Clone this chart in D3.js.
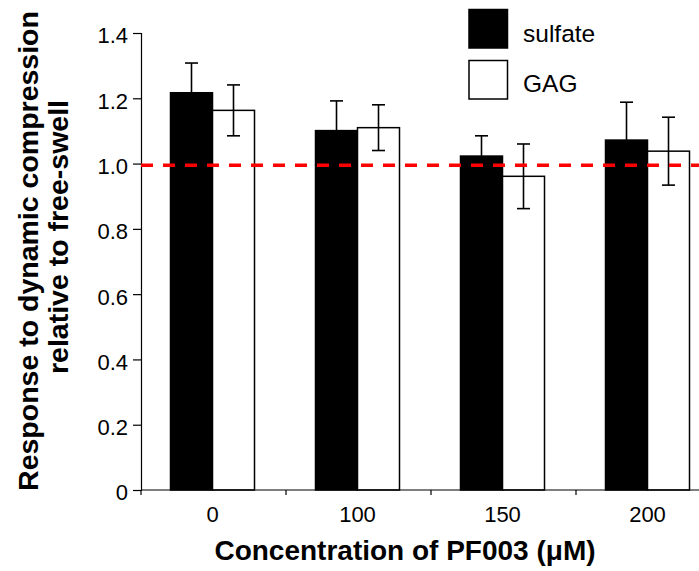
<!DOCTYPE html>
<html>
<head>
<meta charset="utf-8">
<script src="https://cdn.jsdelivr.net/npm/d3@7"></script>
<style>
  html, body { margin: 0; padding: 0; background: #fff; }
  svg { display: block; font-family: "Liberation Sans", Arial, sans-serif; }
</style>
</head>
<body>
<script>
const categories = ["0", "100", "150", "200"];
const seriesNames = ["sulfate", "GAG"];
const sulfate = [1.217, 1.101, 1.023, 1.072];
const sulfateErr = [0.091, 0.091, 0.062, 0.116];
const gag = [1.163, 1.110, 0.961, 1.038];
const gagErr = [0.078, 0.070, 0.099, 0.104];
const yTicks = [0, 0.2, 0.4, 0.6, 0.8, 1.0, 1.2, 1.4];
const refValue = 0.995;
const xTitle = "Concentration of PF003 (\u03BCM)";
const yTitle1 = "Response to dynamic compression";
const yTitle2 = "relative to free-swell";

const W = 699, H = 571;
const svg = d3.select("body").append("svg").attr("width", W).attr("height", H);

const x0 = d3.scaleBand().domain(categories).range([141, 721]).padding(0);
const x1 = d3.scaleBand().domain(seriesNames).range([-43, 41]).padding(0);
const y = d3.scaleLinear().domain([0, 1.4]).range([490, 33]);

const values = { sulfate: sulfate, GAG: gag };
const errs = { sulfate: sulfateErr, GAG: gagErr };
const fills = { sulfate: "#000", GAG: "#fff" };

const data = [];
categories.forEach((c, i) => {
  seriesNames.forEach(s => data.push({ c, s, v: values[s][i], e: errs[s][i] }));
});

// bars
svg.append("g").selectAll("rect").data(data).join("rect")
  .attr("x", d => x0(d.c) + x0.bandwidth() / 2 + x1(d.s))
  .attr("y", d => y(d.v))
  .attr("width", x1.bandwidth())
  .attr("height", d => y(0) - y(d.v))
  .attr("fill", d => fills[d.s])
  .attr("stroke", "#000")
  .attr("stroke-width", 1.5);

// error bars
const eb = svg.append("g").attr("stroke", "#000").attr("stroke-width", 1.6);
data.forEach(d => {
  const cx = x0(d.c) + x0.bandwidth() / 2 + x1(d.s) + x1.bandwidth() / 2;
  const yt = y(d.v + d.e), yb = y(d.v - d.e);
  eb.append("line").attr("x1", cx).attr("x2", cx).attr("y1", yt).attr("y2", yb);
  eb.append("line").attr("x1", cx - 6.5).attr("x2", cx + 6.5).attr("y1", yt).attr("y2", yt);
  eb.append("line").attr("x1", cx - 6.5).attr("x2", cx + 6.5).attr("y1", yb).attr("y2", yb)
    .attr("stroke", d.s === "sulfate" ? "#000" : "#000");
});

// y axis
const yAxis = d3.axisLeft(y).tickValues(yTicks)
  .tickFormat(d => d === 0 ? "0" : d3.format(".1f")(d))
  .tickSize(8).tickPadding(5);
const gy = svg.append("g").attr("transform", "translate(141,0)").call(yAxis);
gy.select(".domain").attr("stroke", "#000").attr("stroke-width", 1.2);
gy.selectAll(".tick line").attr("stroke", "#000").attr("stroke-width", 1.2);
gy.selectAll(".tick text").attr("font-size", 22).attr("fill", "#000")
  .attr("font-family", "Liberation Sans, Arial, sans-serif").attr("dy", "0.45em");

// x axis
const tickPos = categories.map(c => x0(c)).concat([x0.range()[1]]);
const gx = svg.append("g");
gx.append("line").attr("x1", 141).attr("x2", 721).attr("y1", y(0)).attr("y2", y(0))
  .attr("stroke", "#000").attr("stroke-width", 1.2);
gx.selectAll("line.t").data(tickPos).join("line").attr("class", "t")
  .attr("x1", d => d).attr("x2", d => d).attr("y1", y(0)).attr("y2", y(0) + 5)
  .attr("stroke", "#000").attr("stroke-width", 1.2);
gx.selectAll("text").data(categories).join("text")
  .attr("x", d => x0(d) + x0.bandwidth() / 2 - 1)
  .attr("y", 522)
  .attr("text-anchor", "middle")
  .attr("font-size", 22)
  .text(d => d);

// reference line
svg.append("line")
  .attr("x1", 141).attr("x2", 721)
  .attr("y1", y(refValue)).attr("y2", y(refValue))
  .attr("stroke", "#ff0000").attr("stroke-width", 3.5)
  .attr("stroke-dasharray", "12,10");

// axis titles
svg.append("text").attr("x", 405).attr("y", 560).attr("text-anchor", "middle")
  .attr("font-size", 28).attr("font-weight", "bold").text(xTitle);
svg.append("text").attr("transform", "translate(37.5,251) rotate(-90)")
  .attr("text-anchor", "middle").attr("font-size", 28.5).attr("font-weight", "bold").text(yTitle1);
svg.append("text").attr("transform", "translate(68,237) rotate(-90)")
  .attr("text-anchor", "middle").attr("font-size", 28.5).attr("font-weight", "bold").text(yTitle2);

// legend
const legend = svg.append("g");
seriesNames.forEach((s, i) => {
  legend.append("rect").attr("x", 469).attr("y", 9.5 + i * 51)
    .attr("width", 38.5).attr("height", 38.5)
    .attr("fill", fills[s]).attr("stroke", "#000").attr("stroke-width", 1.5);
  legend.append("text").attr("x", 523).attr("y", 41.5 + i * 50.5)
    .attr("font-size", 24.5).text(s);
});
</script>
</body>
</html>
